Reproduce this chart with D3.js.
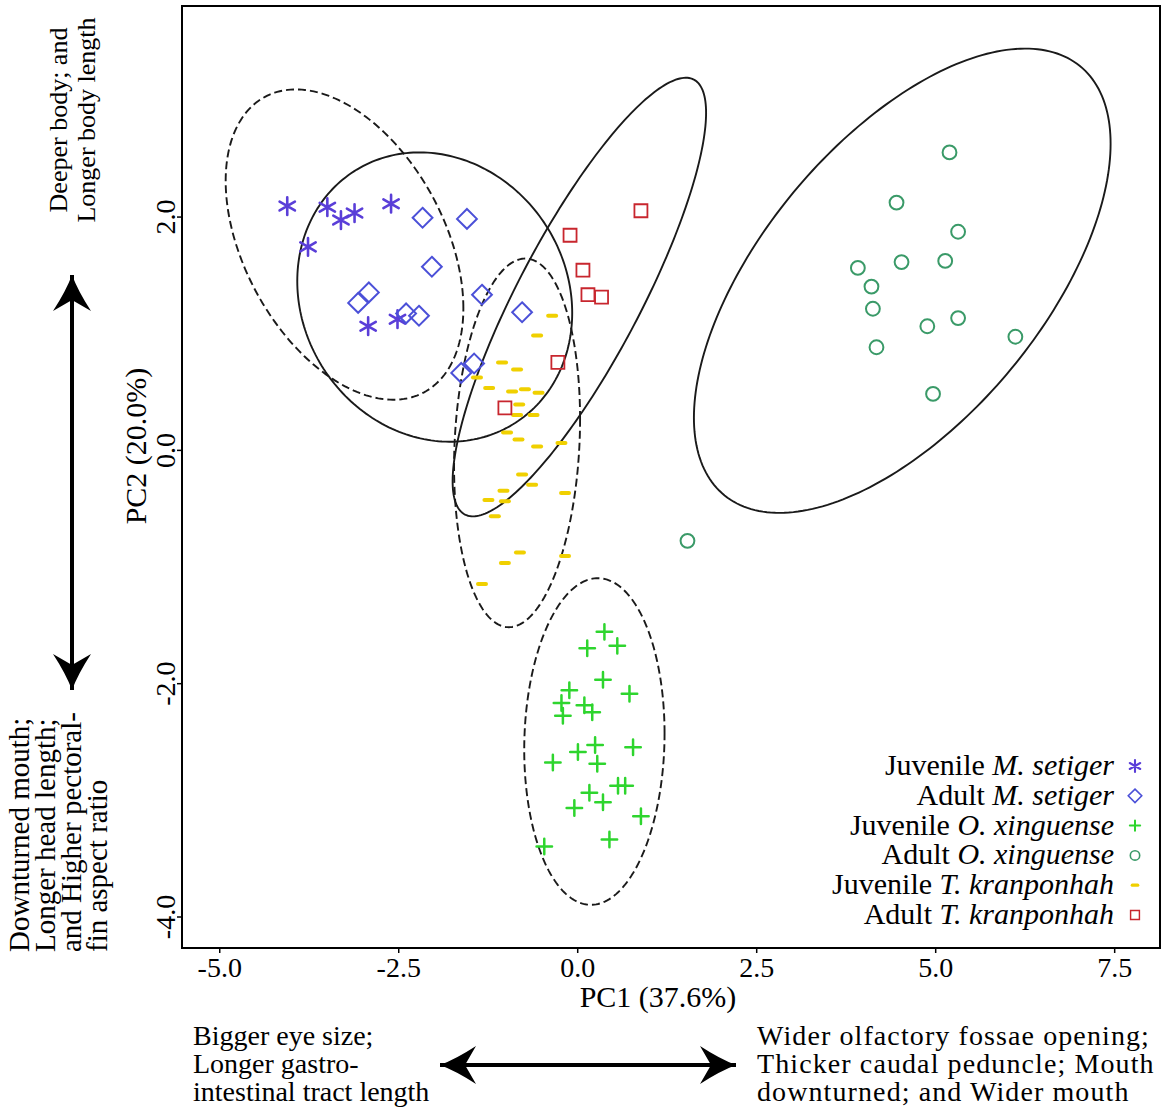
<!DOCTYPE html>
<html lang="en">
<head>
<meta charset="UTF-8">
<title>PCA</title>
<style>
  body { margin: 0; background: #fff; }
  text { font-family: "Liberation Serif", "Times New Roman", serif; fill: #000; }
</style>
</head>
<body>
<script src="https://d3js.org/d3.v7.min.js"></script>
<div id="chart"></div>
<script>
// data (PC1, PC2)
const juvSetiger = [[-4.05,2.09],[-3.49,2.08],[-3.30,1.97],[-3.11,2.03],[-2.60,2.11],[-3.76,1.74],[-2.92,1.06],[-2.51,1.12]]
const adSetiger = [[-2.16,1.99],[-1.54,1.98],[-2.03,1.57],[-2.91,1.35],[-3.06,1.26],[-2.39,1.17],[-2.21,1.15],[-1.33,1.33],[-0.77,1.18],[-1.44,0.74],[-1.62,0.66]]
const juvXinguense = [[0.38,-1.56],[0.14,-1.70],[0.56,-1.68],[0.36,-1.97],[-0.11,-2.06],[0.73,-2.09],[-0.22,-2.17],[0.10,-2.19],[0.21,-2.25],[-0.20,-2.28],[0.25,-2.53],[0.01,-2.59],[0.78,-2.55],[-0.34,-2.68],[0.28,-2.69],[0.57,-2.88],[0.67,-2.88],[0.17,-2.94],[0.36,-3.02],[-0.04,-3.07],[0.89,-3.14],[0.45,-3.34],[-0.46,-3.40]]
const adXinguense = [[5.20,2.55],[4.46,2.12],[5.32,1.87],[3.92,1.56],[4.53,1.61],[5.14,1.62],[4.11,1.40],[4.13,1.21],[5.32,1.13],[4.89,1.06],[6.12,0.97],[4.18,0.88],[4.97,0.48],[1.54,-0.78]]
const juvKranponhah = [[-0.35,1.15],[-0.56,0.98],[-1.05,0.75],[-0.84,0.69],[-1.40,0.62],[-1.23,0.53],[-0.91,0.50],[-0.73,0.52],[-0.54,0.49],[-0.81,0.39],[-0.84,0.30],[-0.61,0.30],[-0.98,0.15],[-0.82,0.09],[-0.56,0.03],[-0.22,0.06],[-0.77,-0.21],[-1.03,-0.35],[-0.63,-0.30],[-0.17,-0.37],[-1.24,-0.43],[-1.01,-0.44],[-1.15,-0.57],[-0.80,-0.88],[-1.01,-0.97],[-0.17,-0.91],[-1.33,-1.15]]
const adKranponhah = [[0.89,2.05],[-0.10,1.84],[0.08,1.54],[0.15,1.33],[0.34,1.31],[-0.27,0.75],[-1.01,0.36]]

const groups = ["Juvenile M. setiger", "Adult M. setiger", "Juvenile O. xinguense", "Adult O. xinguense", "Juvenile T. kranponhah", "Adult T. kranponhah"]
const groupPoints = [juvSetiger, adSetiger, juvXinguense, adXinguense, juvKranponhah, adKranponhah]

// ellipses: centre, half width, half height, correlation (same order as groups)
const ellCx = [-3.25, -1.99, 0.24, 4.54, -0.84, 0.03]
const ellCy = [1.76, 1.31, -2.50, 1.45, 0.06, 1.31]
const ellRx = [1.66, 1.92, 0.98, 2.91, 0.88, 1.77]
const ellRy = [1.33, 1.24, 1.40, 1.99, 1.58, 1.88]
const ellRho = [-0.41, -0.11, 0.05, 0.59, 0.13, 0.84]

const xTicks = [-5.0, -2.5, 0.0, 2.5, 5.0, 7.5]
const yTicks = [-4.0, -2.0, 0.0, 2.0]

const MARGIN = { LEFT: 182, RIGHT: 10, TOP: 6, BOTTOM: 167 }
const WIDTH = 1170 - MARGIN.LEFT - MARGIN.RIGHT
const HEIGHT = 1115 - MARGIN.TOP - MARGIN.BOTTOM

const svg = d3.select("#chart").append("svg")
    .attr("width", 1170)
    .attr("height", 1115)
const g = svg.append("g").attr("transform", `translate(${MARGIN.LEFT}, ${MARGIN.TOP})`)

const x = d3.scaleLinear().domain([-5.52, 8.14]).range([0, WIDTH])
const y = d3.scaleLinear().domain([-4.27, 3.805]).range([HEIGHT, 0])

const fmt = d => d.toFixed(1)

// axes
const xAxis = g.append("g")
    .attr("transform", `translate(0, ${HEIGHT})`)
    .call(d3.axisBottom(x).tickValues(xTicks).tickFormat(fmt).tickSize(5).tickPadding(4))
xAxis.select(".domain").remove()
xAxis.selectAll("text").style("font-size", "28px").attr("font-family", null)
xAxis.selectAll("line").attr("stroke", "#000").attr("stroke-width", 1.5)

const yAxis = g.append("g")
    .call(d3.axisLeft(y).tickValues(yTicks).tickFormat(fmt).tickSize(5))
yAxis.select(".domain").remove()
yAxis.selectAll("line").attr("stroke", "#000").attr("stroke-width", 1.5)
yAxis.selectAll("text")
    .attr("x", 0).attr("y", -7).attr("dy", 0)
    .attr("text-anchor", "middle")
    .attr("transform", "rotate(-90)")
    .attr("font-family", null)
    .style("font-size", "28px")

// ellipses
const ellLine = d3.line().x(d => x(d[0])).y(d => y(d[1])).curve(d3.curveLinearClosed)
groups.forEach((name, i) => {
    const phi = Math.acos(ellRho[i])
    const pts = d3.range(0, 2 * Math.PI, Math.PI / 120).map(t =>
        [ellCx[i] + ellRx[i] * Math.cos(t), ellCy[i] + ellRy[i] * Math.cos(t - phi)])
    g.append("path")
        .attr("d", ellLine(pts))
        .attr("fill", "none")
        .attr("stroke", "#1a1a1a")
        .attr("stroke-width", 1.9)
        .attr("stroke-dasharray", name.startsWith("Juvenile") ? "8,4" : null)
})

// markers
const markers = [
    { type: d3.symbolAsterisk, size: 220, color: "#5a3ed8", width: 2.6 },
    { type: d3.symbolDiamond2, size: 250, color: "#4b50d8", width: 2 },
    { type: d3.symbolPlus, size: 80, color: "#2ed52e", width: 2.5 },
    { type: d3.symbolCircle, size: 150, color: "#3a9a68", width: 2 },
    { type: "dash", size: 8, color: "#f0d000", width: 4 },
    { type: d3.symbolSquare2, size: 215, color: "#c8262e", width: 1.8 }
]
const markerPath = (m, scale) => {
    if (m.type === "dash") {
        const h = m.size * scale / 2
        return `M${-h},0H${h}`
    }
    return d3.symbol().type(m.type).size(m.size * scale * scale)()
}

groupPoints.forEach((pts, i) => {
    const m = markers[i]
    g.append("g").selectAll("path")
        .data(pts)
        .join("path")
        .attr("transform", d => `translate(${x(d[0])}, ${y(d[1])})`)
        .attr("d", markerPath(m, 1))
        .attr("fill", "none")
        .attr("stroke", m.color)
        .attr("stroke-width", m.width)
        .attr("stroke-linecap", "round")
})

// frame
g.append("rect")
    .attr("width", WIDTH).attr("height", HEIGHT)
    .attr("fill", "none").attr("stroke", "#000").attr("stroke-width", 2)

// legend
const legend = svg.append("g")
groups.forEach((name, i) => {
    const parts = name.split(" ")
    const yy = 775 + i * 29.8
    const t = legend.append("text")
        .attr("x", 1114).attr("y", yy)
        .attr("text-anchor", "end")
        .style("font-size", "30px")
    t.append("tspan").text(parts[0] + " ")
    t.append("tspan").style("font-style", "italic").text(parts.slice(1).join(" "))
    const m = markers[i]
    legend.append("path")
        .attr("transform", `translate(1135, ${yy - 9})`)
        .attr("d", markerPath(m, 0.68))
        .attr("fill", "none")
        .attr("stroke", m.color)
        .attr("stroke-width", m.width * 0.8)
        .attr("stroke-linecap", "round")
})

// axis titles
svg.append("text")
    .attr("x", 658).attr("y", 1007)
    .attr("text-anchor", "middle")
    .style("font-size", "30px")
    .text("PC1 (37.6%)")
svg.append("text")
    .attr("transform", "translate(146, 446) rotate(-90)")
    .attr("text-anchor", "middle")
    .style("font-size", "30px")
    .text("PC2 (20.0%)")

// side annotations
const addRotated = (lines, xs, yPos, anchor, size) => {
    lines.forEach((s, i) => {
        svg.append("text")
            .attr("transform", `translate(${xs[i]}, ${yPos}) rotate(-90)`)
            .attr("text-anchor", anchor)
            .style("font-size", size + "px")
            .text(s)
    })
}
addRotated(["Deeper body; and", "Longer body length"], [67, 95], 120, "middle", 26)
addRotated(["Downturned mouth;", "Longer head length;", "and Higher pectoral-", "fin aspect ratio"], [29, 55, 81, 107], 952, "start", 29)

const addBlock = (lines, xPos, yStart, size, spacing) => {
    lines.forEach((s, i) => {
        svg.append("text")
            .attr("x", xPos).attr("y", yStart + i * 28)
            .style("font-size", size + "px")
            .style("letter-spacing", spacing + "px")
            .text(s)
    })
}
addBlock(["Bigger eye size;", "Longer gastro-", "intestinal tract length"], 193, 1045, 28, 0)
addBlock(["Wider olfactory fossae opening;", "Thicker caudal peduncle; Mouth", "downturned; and Wider mouth"], 757, 1045, 28, 1.1)

// double arrows
const arrowHead = (tx, ty, angle) => {
    const p = d3.path()
    p.moveTo(0, 0)
    p.quadraticCurveTo(-16, -6, -36, -19)
    p.lineTo(-25, 0)
    p.lineTo(-36, 19)
    p.quadraticCurveTo(-16, 6, 0, 0)
    p.closePath()
    svg.append("path")
        .attr("d", p.toString())
        .attr("transform", `translate(${tx}, ${ty}) rotate(${angle})`)
        .attr("fill", "#000")
}
const doubleArrow = (x1, y1, x2, y2) => {
    svg.append("line")
        .attr("x1", x1).attr("y1", y1).attr("x2", x2).attr("y2", y2)
        .attr("stroke", "#000").attr("stroke-width", 4)
    const a = Math.atan2(y2 - y1, x2 - x1) * 180 / Math.PI
    arrowHead(x2, y2, a)
    arrowHead(x1, y1, a + 180)
}
doubleArrow(72, 275, 72, 690)
doubleArrow(440, 1065, 736, 1065)
</script>
</body>
</html>
